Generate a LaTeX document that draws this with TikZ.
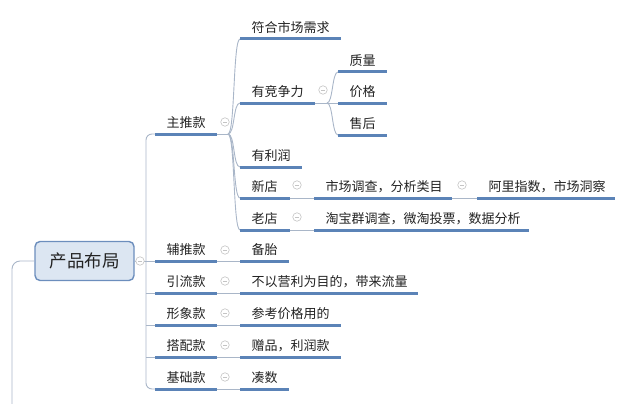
\documentclass[tikz,border=0pt]{standalone}
\usepackage{fontspec}
\setmainfont{Noto Sans CJK SC}
\definecolor{ul}{HTML}{5B83B7}
\definecolor{cn}{HTML}{A9B6C8}
\definecolor{tx}{HTML}{222222}
\definecolor{rootfill}{HTML}{DCE6F2}
\definecolor{rootline}{HTML}{6C8EBD}
\definecolor{cc}{HTML}{C4C4C4}
\begin{document}
\begin{tikzpicture}[x=1pt,y=-1pt,
  topic/.style={anchor=south west, inner xsep=0pt, inner ysep=3pt, text width=#1,
     text height=10pt, text depth=3pt, font=\fontsize{13}{15}\selectfont, text=tx,
     align=left, execute at begin node={\hspace*{11.5pt}}},
  uline/.style={draw=ul, line width=3pt},
  conn/.style={draw=cn, line width=0.9pt},
  fold/.style={circle, draw=cc, fill=white, line width=0.6pt, minimum size=8.5pt, inner sep=0pt,
     path picture={\draw[cc, line width=0.6pt] ([xshift=-2pt]path picture bounding box.center) -- ([xshift=2pt]path picture bounding box.center);}},
  rootbox/.style={draw=rootline, fill=rootfill, line width=1.4pt, rounded corners=5pt,
     minimum width=99pt, minimum height=39pt, font=\fontsize{17.5}{20}\selectfont, text=tx}
]
\useasboundingbox (0,0) rectangle (640,404);

% root
\node[rootbox] (root) at (84.5,261) {产品布局};
\coordinate (off) at (12,404);

% level 2
\node[topic=62pt] (zt) at (155,134) {主推款};
\node[topic=62pt] (ft) at (155,261) {辅推款};
\node[topic=62pt] (yl) at (155,293) {引流款};
\node[topic=62pt] (xx) at (155,325) {形象款};
\node[topic=62pt] (dp) at (155,357) {搭配款};
\node[topic=62pt] (jc) at (155,389) {基础款};

% 主推款 children
\node[topic=101pt] (a1) at (240,39) {符合市场需求};
\node[topic=75pt] (a2) at (240,103) {有竞争力};
\node[topic=62pt] (a3) at (240,167) {有利润};
\node[topic=50pt] (a4) at (240,198) {新店};
\node[topic=50pt] (a5) at (240,230) {老店};

% 有竞争力 children
\node[topic=49pt] (b1) at (338,72) {质量};
\node[topic=49pt] (b2) at (338,103) {价格};
\node[topic=49pt] (b3) at (338,135) {售后};

% 新店 / 老店 children
\node[topic=138pt] (c1) at (314,198) {市场调查，分析类目};
\node[topic=138pt] (c2) at (477,198) {阿里指数，市场洞察};
\node[topic=215pt] (d1) at (314,230) {淘宝群调查，微淘投票，数据分析};

% other level 3
\node[topic=49pt] (e1) at (240,261) {备胎};
\node[topic=178pt] (e2) at (240,293) {不以营利为目的，带来流量};
\node[topic=101pt] (e3) at (240,325) {参考价格用的};
\node[topic=101pt] (e4) at (240,357) {赠品，利润款};
\node[topic=49pt] (e5) at (240,389) {凑数};

% connectors
\draw[conn, rounded corners=8pt] (root.west) -- (12,261) -- (off);
\draw[conn] (root.east) -- (ft.south west);
\draw[conn, rounded corners=6pt] (zt.south west) -- (146,134) -- (146,389) -- (jc.south west);
\foreach \n/\y in {yl/293,xx/325,dp/357}{
  \draw[conn] (146,\y) -- (\n.south west);
}
% 主推款 fork
\coordinate (zf) at (228,134);
\draw[conn] (zt.south east) -- (zf);
\foreach \n in {a1,a2,a3,a4,a5}{
  \draw[conn] (zf) .. controls (235,134) and ([xshift=-7pt]\n.south west) .. (\n.south west);
}
% 有竞争力 fork
\coordinate (af) at (327,103);
\draw[conn] (a2.south east) -- (af);
\foreach \n in {b1,b2,b3}{
  \draw[conn] (af) .. controls (333,103) and ([xshift=-6pt]\n.south west) .. (\n.south west);
}
\draw[conn] (a4.south east) -- (c1.south west);
\draw[conn] (c1.south east) -- (c2.south west);
\draw[conn] (a5.south east) -- (d1.south west);
\draw[conn] (ft.south east) -- (e1.south west);
\draw[conn] (yl.south east) -- (e2.south west);
\draw[conn] (xx.south east) -- (e3.south west);
\draw[conn] (dp.south east) -- (e4.south west);
\draw[conn] (jc.south east) -- (e5.south west);

% underlines
\foreach \n in {zt,ft,yl,xx,dp,jc,a1,a2,a3,a4,a5,b1,b2,b3,c1,c2,d1,e1,e2,e3,e4,e5}{
  \draw[uline] (\n.south west) -- (\n.south east);
}

% fold markers
\node[fold] (f0) at (140,261) {};
\node[fold] (f1) at (225,122) {};
\node[fold] (f2) at (323,90) {};
\node[fold] (f3) at (297,185) {};
\node[fold] (f4) at (462,185) {};
\node[fold] (f5) at (297,217) {};
\node[fold] (f6) at (225,250) {};
\node[fold] (f7) at (225,281) {};
\node[fold] (f8) at (225,313) {};
\node[fold] (f9) at (225,345) {};
\node[fold] (f10) at (225,377) {};
\end{tikzpicture}
\end{document}
